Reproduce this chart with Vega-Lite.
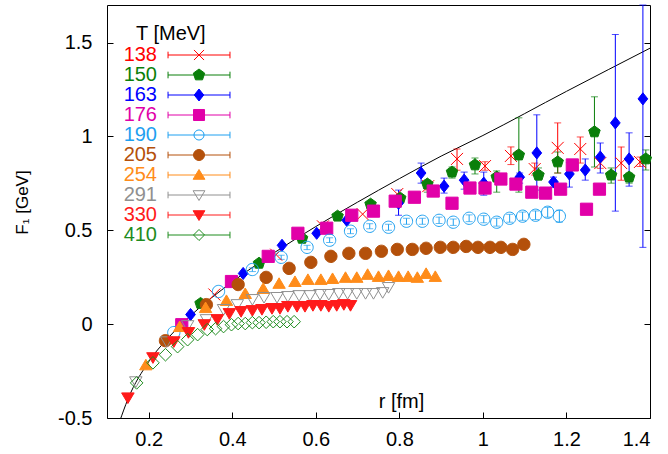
{
  "$schema": "https://vega.github.io/schema/vega-lite/v6.json",
  "width": 543,
  "height": 413,
  "autosize": {"type": "none"},
  "padding": {"left": 107, "top": 5, "right": 18, "bottom": 36},
  "background": "white",
  "config": {
    "view": {"stroke": "black", "strokeWidth": 1},
    "font": "Liberation Sans",
    "axis": {"grid": false, "domain": false, "tickColor": "black", "tickSize": -6, "tickWidth": 1,
      "labelFont": "Liberation Sans", "labelFontSize": 20, "labelColor": "black",
      "titleFont": "Liberation Sans", "titleFontSize": 20, "titleFontWeight": "normal", "titleColor": "black"}
  },
  "datasets": {
    "pts": [
      {"T":"138","r":0.357,"F":0.158},{"T":"138","r":0.505,"F":0.37},{"T":"138","r":0.617,"F":0.521},{"T":"138","r":0.712,"F":0.586},{"T":"138","r":0.795,"F":0.693},
      {"T":"138","r":0.869,"F":0.735,"lo":0.715,"hi":0.755},{"T":"138","r":0.938,"F":0.88,"lo":0.82,"hi":0.933},{"T":"138","r":1.005,"F":0.842,"lo":0.82,"hi":0.865},
      {"T":"138","r":1.067,"F":0.896,"lo":0.85,"hi":0.944},{"T":"138","r":1.124,"F":0.826,"lo":0.794,"hi":0.858},{"T":"138","r":1.179,"F":0.939,"lo":0.805,"hi":1.072},
      {"T":"138","r":1.233,"F":0.933,"lo":0.858,"hi":0.997},{"T":"138","r":1.281,"F":0.858,"lo":0.83,"hi":0.885},{"T":"138","r":1.331,"F":0.858,"lo":0.767,"hi":0.944},
      {"T":"138","r":1.376,"F":0.864,"lo":0.84,"hi":0.89},

      {"T":"150","r":0.324,"F":0.11},{"T":"150","r":0.464,"F":0.324},{"T":"150","r":0.567,"F":0.457},{"T":"150","r":0.652,"F":0.575},{"T":"150","r":0.731,"F":0.639},
      {"T":"150","r":0.802,"F":0.671,"lo":0.655,"hi":0.69},{"T":"150","r":0.867,"F":0.746,"lo":0.703,"hi":0.767},{"T":"150","r":0.926,"F":0.81,"lo":0.778,"hi":0.837},
      {"T":"150","r":0.981,"F":0.848,"lo":0.8,"hi":0.885},{"T":"150","r":1.033,"F":0.783,"lo":0.703,"hi":0.816},{"T":"150","r":1.086,"F":0.901,"lo":0.703,"hi":1.099},
      {"T":"150","r":1.133,"F":0.794,"lo":0.767,"hi":0.832},{"T":"150","r":1.179,"F":0.864,"lo":0.805,"hi":0.917},{"T":"150","r":1.267,"F":1.024,"lo":0.837,"hi":1.211},
      {"T":"150","r":1.307,"F":0.794,"lo":0.751,"hi":0.832},{"T":"150","r":1.35,"F":0.783,"lo":0.751,"hi":0.805},{"T":"150","r":1.39,"F":0.88,"lo":0.821,"hi":0.928},

      {"T":"163","r":0.3,"F":0.051},{"T":"163","r":0.426,"F":0.27},{"T":"163","r":0.519,"F":0.42},{"T":"163","r":0.602,"F":0.484},{"T":"163","r":0.674,"F":0.553},
      {"T":"163","r":0.798,"F":0.644,"lo":0.58,"hi":0.714},{"T":"163","r":0.852,"F":0.805,"lo":0.751,"hi":0.858},{"T":"163","r":0.907,"F":0.735,"lo":0.698,"hi":0.778},
      {"T":"163","r":0.955,"F":0.767,"lo":0.719,"hi":0.81},{"T":"163","r":1.002,"F":0.751,"lo":0.687,"hi":0.81},{"T":"163","r":1.088,"F":0.783,"lo":0.751,"hi":0.805},
      {"T":"163","r":1.129,"F":0.912,"lo":0.714,"hi":1.115},{"T":"163","r":1.169,"F":0.757,"lo":0.73,"hi":0.783},{"T":"163","r":1.207,"F":0.8,"lo":0.73,"hi":0.86},
      {"T":"163","r":1.245,"F":0.821,"lo":0.767,"hi":0.88},{"T":"163","r":1.281,"F":0.89,"lo":0.805,"hi":0.965},{"T":"163","r":1.317,"F":1.072,"lo":0.602,"hi":1.543},
      {"T":"163","r":1.35,"F":0.88,"lo":0.735,"hi":1.019},{"T":"163","r":1.383,"F":1.2,"lo":0.409,"hi":1.7},

      {"T":"176","r":0.279,"F":-0.003},{"T":"176","r":0.398,"F":0.227},{"T":"176","r":0.486,"F":0.361},{"T":"176","r":0.557,"F":0.484},{"T":"176","r":0.626,"F":0.511},
      {"T":"176","r":0.686,"F":0.58},{"T":"176","r":0.738,"F":0.602},{"T":"176","r":0.79,"F":0.655},{"T":"176","r":0.836,"F":0.676},{"T":"176","r":0.881,"F":0.709},
      {"T":"176","r":0.926,"F":0.644},{"T":"176","r":0.969,"F":0.725},{"T":"176","r":1.005,"F":0.725},{"T":"176","r":1.043,"F":0.773},{"T":"176","r":1.079,"F":0.746},
      {"T":"176","r":1.117,"F":0.703},{"T":"176","r":1.15,"F":0.698},{"T":"176","r":1.186,"F":0.719},{"T":"176","r":1.214,"F":0.848},{"T":"176","r":1.248,"F":0.612},
      {"T":"176","r":1.279,"F":0.719},

      {"T":"190","r":0.26,"F":-0.045},{"T":"190","r":0.367,"F":0.174},{"T":"190","r":0.448,"F":0.291,"lo":0.28,"hi":0.3},{"T":"190","r":0.517,"F":0.356,"lo":0.345,"hi":0.367},
      {"T":"190","r":0.579,"F":0.409,"lo":0.397,"hi":0.42},{"T":"190","r":0.633,"F":0.447,"lo":0.435,"hi":0.46},{"T":"190","r":0.683,"F":0.495,"lo":0.482,"hi":0.508},
      {"T":"190","r":0.729,"F":0.521,"lo":0.508,"hi":0.535},{"T":"190","r":0.774,"F":0.516,"lo":0.5,"hi":0.532},{"T":"190","r":0.817,"F":0.548,"lo":0.532,"hi":0.564},
      {"T":"190","r":0.855,"F":0.548,"lo":0.532,"hi":0.564},{"T":"190","r":0.895,"F":0.553,"lo":0.536,"hi":0.57},{"T":"190","r":0.929,"F":0.543,"lo":0.526,"hi":0.56},
      {"T":"190","r":0.967,"F":0.564,"lo":0.546,"hi":0.582},{"T":"190","r":1.002,"F":0.559,"lo":0.54,"hi":0.578},{"T":"190","r":1.033,"F":0.543,"lo":0.522,"hi":0.564},
      {"T":"190","r":1.064,"F":0.564,"lo":0.543,"hi":0.585},{"T":"190","r":1.095,"F":0.575,"lo":0.553,"hi":0.597},{"T":"190","r":1.126,"F":0.58,"lo":0.557,"hi":0.603},
      {"T":"190","r":1.155,"F":0.596,"lo":0.57,"hi":0.622},{"T":"190","r":1.183,"F":0.575,"lo":0.543,"hi":0.607},

      {"T":"205","r":0.24,"F":-0.088},{"T":"205","r":0.338,"F":0.104},{"T":"205","r":0.414,"F":0.211},{"T":"205","r":0.481,"F":0.249},{"T":"205","r":0.536,"F":0.297},
      {"T":"205","r":0.588,"F":0.329},{"T":"205","r":0.636,"F":0.361},{"T":"205","r":0.679,"F":0.377},{"T":"205","r":0.719,"F":0.377},{"T":"205","r":0.757,"F":0.388},
      {"T":"205","r":0.795,"F":0.398},{"T":"205","r":0.831,"F":0.398},{"T":"205","r":0.864,"F":0.404},{"T":"205","r":0.898,"F":0.409},{"T":"205","r":0.929,"F":0.409},
      {"T":"205","r":0.96,"F":0.414},{"T":"205","r":0.988,"F":0.409},{"T":"205","r":1.017,"F":0.409},{"T":"205","r":1.043,"F":0.409},{"T":"205","r":1.071,"F":0.398},
      {"T":"205","r":1.098,"F":0.425},

      {"T":"254","r":0.193,"F":-0.217},{"T":"254","r":0.274,"F":-0.013},{"T":"254","r":0.336,"F":0.088},{"T":"254","r":0.386,"F":0.126},{"T":"254","r":0.431,"F":0.163},
      {"T":"254","r":0.474,"F":0.19},{"T":"254","r":0.512,"F":0.217},{"T":"254","r":0.55,"F":0.227},{"T":"254","r":0.581,"F":0.238},{"T":"254","r":0.612,"F":0.238},
      {"T":"254","r":0.64,"F":0.243},{"T":"254","r":0.671,"F":0.249},{"T":"254","r":0.698,"F":0.249},{"T":"254","r":0.724,"F":0.265},{"T":"254","r":0.75,"F":0.254},
      {"T":"254","r":0.774,"F":0.259},{"T":"254","r":0.798,"F":0.254},{"T":"254","r":0.821,"F":0.254},{"T":"254","r":0.843,"F":0.249},{"T":"254","r":0.864,"F":0.27},
      {"T":"254","r":0.886,"F":0.254},

      {"T":"291","r":0.169,"F":-0.307},{"T":"291","r":0.243,"F":-0.094},{"T":"291","r":0.293,"F":-0.008},{"T":"291","r":0.338,"F":0.024},{"T":"291","r":0.379,"F":0.078},
      {"T":"291","r":0.412,"F":0.104},{"T":"291","r":0.448,"F":0.131},{"T":"291","r":0.476,"F":0.142},{"T":"291","r":0.507,"F":0.142},{"T":"291","r":0.533,"F":0.147},
      {"T":"291","r":0.56,"F":0.152},{"T":"291","r":0.586,"F":0.152},{"T":"291","r":0.61,"F":0.158},{"T":"291","r":0.631,"F":0.158},{"T":"291","r":0.655,"F":0.163},
      {"T":"291","r":0.676,"F":0.163},{"T":"291","r":0.698,"F":0.163},{"T":"291","r":0.719,"F":0.163},{"T":"291","r":0.738,"F":0.163},{"T":"291","r":0.76,"F":0.168},
      {"T":"291","r":0.774,"F":0.195},

      {"T":"330","r":0.15,"F":-0.393},{"T":"330","r":0.21,"F":-0.179},{"T":"330","r":0.26,"F":-0.094},{"T":"330","r":0.295,"F":-0.045},{"T":"330","r":0.333,"F":-0.003},
      {"T":"330","r":0.364,"F":0.024},{"T":"330","r":0.393,"F":0.056},{"T":"330","r":0.421,"F":0.067},{"T":"330","r":0.448,"F":0.072},{"T":"330","r":0.471,"F":0.078},
      {"T":"330","r":0.495,"F":0.083},{"T":"330","r":0.514,"F":0.083},{"T":"330","r":0.533,"F":0.094},{"T":"330","r":0.555,"F":0.094},{"T":"330","r":0.574,"F":0.094},
      {"T":"330","r":0.593,"F":0.099},{"T":"330","r":0.612,"F":0.099},{"T":"330","r":0.631,"F":0.094},{"T":"330","r":0.65,"F":0.099},{"T":"330","r":0.667,"F":0.104},
      {"T":"330","r":0.683,"F":0.099},

      {"T":"410","r":0.171,"F":-0.313},{"T":"410","r":0.21,"F":-0.206},{"T":"410","r":0.24,"F":-0.163},{"T":"410","r":0.269,"F":-0.12},{"T":"410","r":0.293,"F":-0.083},
      {"T":"410","r":0.317,"F":-0.056},{"T":"410","r":0.34,"F":-0.029},{"T":"410","r":0.36,"F":-0.024},{"T":"410","r":0.379,"F":-0.013},{"T":"410","r":0.398,"F":-0.003},
      {"T":"410","r":0.414,"F":0.003},{"T":"410","r":0.431,"F":0.003},{"T":"410","r":0.448,"F":0.008},{"T":"410","r":0.464,"F":0.008},{"T":"410","r":0.481,"F":0.01},
      {"T":"410","r":0.498,"F":0.013},{"T":"410","r":0.514,"F":0.013},{"T":"410","r":0.531,"F":0.013},{"T":"410","r":0.548,"F":0.013}
    ],
    "curve": [
      {"r":0.13,"F":-0.52},{"r":0.15,"F":-0.4},{"r":0.2,"F":-0.2},{"r":0.25,"F":-0.065},{"r":0.3,"F":0.045},{"r":0.4,"F":0.225},
      {"r":0.5,"F":0.38},{"r":0.6,"F":0.52},{"r":0.7,"F":0.65},{"r":0.8,"F":0.775},{"r":0.9,"F":0.895},{"r":1.0,"F":1.005},
      {"r":1.2,"F":1.24},{"r":1.4,"F":1.47}
    ]
  },
  "layer": [
    {
      "data": {"name": "curve"},
      "mark": {"type": "line", "color": "black", "strokeWidth": 1, "interpolate": "monotone", "clip": true},
      "encoding": {
        "x": {"field": "r", "type": "quantitative", "title": "r [fm]", "scale": {"domain": [0.1, 1.4], "nice": false, "zero": false}},
        "y": {"field": "F", "type": "quantitative", "title": "F₁ [GeV]", "scale": {"domain": [-0.5, 1.7], "nice": false, "zero": false},
          "axis": {"orient": "right", "values": [-0.5, 0, 0.5, 1, 1.5], "labels": false, "title": null}}
      }
    },
    {
      "data": {"name": "pts"},
      "transform": [{"filter": "isValid(datum.lo)"}],
      "mark": {"type": "errorbar", "ticks": {"size": 7}, "thickness": 1},
      "encoding": {
        "x": {"field": "r", "type": "quantitative", "title": "r [fm]"},
        "y": {"field": "lo", "type": "quantitative", "title": "F₁ [GeV]", "axis": null},
        "y2": {"field": "hi"},
        "color": {"field": "T", "type": "nominal", "legend": null,
          "scale": {"domain": ["138","150","163","176","190","205","254","291","330","410","_"],
            "range": ["#ff0000","#0a7f0a","#0000ff","#e100a8","#1ea0f0","#b4500a","#ff8c1a","#909090","#ff1a1a","#1e8c1e","#000000"]}}
      }
    },
    {
      "data": {"name": "pts"},
      "mark": {"type": "point", "opacity": 1, "strokeWidth": 1},
      "encoding": {
        "x": {"field": "r", "type": "quantitative", "title": "r [fm]",
          "axis": {"values": [0.2, 0.4, 0.6, 0.8, 1, 1.2, 1.4], "format": "~g", "labelPadding": 17, "titleX": 294, "titleY": -11, "titleBaseline": "alphabetic", "titleAlign": "center"}},
        "y": {"field": "F", "type": "quantitative", "title": "F₁ [GeV]",
          "axis": {"orient": "left", "values": [-0.5, 0, 0.5, 1, 1.5], "labelPadding": 21,
            "labelExpr": "datum.value < 0 ? '-' + format(-datum.value, '~g') : format(datum.value, '~g')",
            "titleX": -85, "titleY": 197, "titleAngle": -90, "titleBaseline": "middle", "titleAlign": "center", "titleFontSize": 17}},
        "shape": {"field": "T", "type": "nominal", "legend": null,
          "scale": {"domain": ["138","150","163","176","190","205","254","291","330","410","_"],
            "range": ["M-1,-1L1,1M-1,1L1,-1", "M0,-1L0.951,-0.309L0.588,0.809L-0.588,0.809L-0.951,-0.309Z", "M0,-1L0.8,0L0,1L-0.8,0Z", "M-1,-1L1,-1L1,1L-1,1Z", "M-1,0A1,1,0,1,0,1,0A1,1,0,1,0,-1,0Z", "M-1,0A1,1,0,1,0,1,0A1,1,0,1,0,-1,0Z", "M0,-0.9L1,0.8L-1,0.8Z", "M0,0.9L1,-0.8L-1,-0.8Z", "M0,0.9L1,-0.8L-1,-0.8Z", "M0,-1L1,0L0,1L-1,0Z", "M-1,-1L1,-1L1,1L-1,1Z"]}},
        "size": {"field": "T", "type": "nominal", "legend": null,
          "scale": {"domain": ["138","150","163","176","190","205","254","291","330","410","_"],
            "range": [144, 160, 169, 225, 121, 144, 169, 144, 144, 121, 100]}},
        "fill": {"field": "T", "type": "nominal", "legend": null,
          "scale": {"domain": ["138","150","163","176","190","205","254","291","330","410","_"],
            "range": ["transparent","#0a7f0a","#0000ff","#e100a8","transparent","#b4500a","#ff8c1a","transparent","#ff1a1a","transparent","transparent"]}},
        "stroke": {"field": "T", "type": "nominal",
          "scale": {"domain": ["138","150","163","176","190","205","254","291","330","410"],
            "range": ["#ff0000","#0a7f0a","#0000ff","#e100a8","#1ea0f0","#b4500a","#ff8c1a","#909090","#ff1a1a","#1e8c1e"]},
          "legend": {
            "orient": "none", "legendX": 29, "legendY": 19,
            "title": "T [MeV]", "titleFont": "Liberation Sans", "titleFontSize": 20, "titleFontWeight": "normal", "titleColor": "black", "titlePadding": 1,
            "labelFont": "Liberation Sans", "labelFontSize": 20, "labelAlign": "right", "labelOffset": 1,
            "labelColor": {"expr": "scale('stroke', datum.value)"},
            "symbolSize": 361, "symbolStrokeWidth": 1, "rowPadding": 0, "padding": 0, "symbolOpacity": 1,
            "symbolFillColor": {"expr": "scale('fill', datum.value)"},
            "symbolType": {"expr": "['M2.32,0L8.84,0M2.32,-0.35L2.32,0.35M8.84,-0.35L8.84,0.35M5.05,-0.53L6.11,0.53M5.05,0.53L6.11,-0.53', 'M2.32,0L8.84,0M2.32,-0.35L2.32,0.35M8.84,-0.35L8.84,0.35M5.58,-0.63L6.18,-0.195L5.95,0.51L5.21,0.51L4.98,-0.195Z', 'M2.32,0L8.84,0M2.32,-0.35L2.32,0.35M8.84,-0.35L8.84,0.35M5.58,-0.63L6.08,0L5.58,0.63L5.08,0Z', 'M2.32,0L8.84,0M2.32,-0.35L2.32,0.35M8.84,-0.35L8.84,0.35M5.0,-0.58L6.16,-0.58L6.16,0.58L5.0,0.58Z', 'M2.32,0L8.84,0M2.32,-0.35L2.32,0.35M8.84,-0.35L8.84,0.35M5.05,0A0.53,0.53,0,1,0,6.11,0A0.53,0.53,0,1,0,5.05,0Z', 'M2.32,0L8.84,0M2.32,-0.35L2.32,0.35M8.84,-0.35L8.84,0.35M5.0,0A0.58,0.58,0,1,0,6.16,0A0.58,0.58,0,1,0,5.0,0Z', 'M2.32,0L8.84,0M2.32,-0.35L2.32,0.35M8.84,-0.35L8.84,0.35M5.58,-0.58L6.2,0.45L4.96,0.45Z', 'M2.32,0L8.84,0M2.32,-0.35L2.32,0.35M8.84,-0.35L8.84,0.35M5.58,0.58L6.2,-0.45L4.96,-0.45Z', 'M2.32,0L8.84,0M2.32,-0.35L2.32,0.35M8.84,-0.35L8.84,0.35M5.58,0.58L6.2,-0.45L4.96,-0.45Z', 'M2.32,0L8.84,0M2.32,-0.35L2.32,0.35M8.84,-0.35L8.84,0.35M5.58,-0.58L6.16,0L5.58,0.58L5.0,0Z'][indexof(['138','150','163','176','190','205','254','291','330','410'], datum.value)]"}
          }}
      }
    }
  ],
  "resolve": {"axis": {"y": "independent"}}
}
